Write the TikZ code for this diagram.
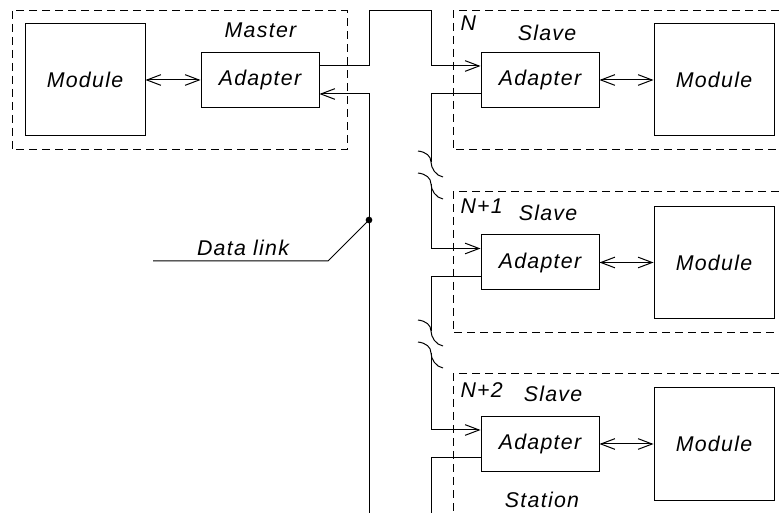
\documentclass[tikz,border=0pt]{standalone}
\usepackage{fontspec}
\setmainfont{Liberation Sans}[LetterSpace=6]
\usetikzlibrary{arrows.meta}

\tikzset{every picture/.style={line width=0.75pt}}
\tikzset{
  >={Straight Barb[length=10.5pt,width=8pt]},
  lbl/.style={inner sep=0.75pt, font=\fontsize{16}{18}\selectfont\itshape},
  unit/.style={draw, lbl, minimum width=88.5pt, minimum height=41.25pt},
  modbox/.style={draw, lbl, minimum width=90pt, minimum height=84pt},
  frame/.style={dash pattern=on 6pt off 3.75pt},
}

\begin{document}
\begin{tikzpicture}[x=0.75pt,y=0.75pt,yscale=-1,xscale=1]
\useasboundingbox (0,0) rectangle (779,513);

%Dashed frames
\draw [frame] (12,11) rectangle (347,150);
\draw [frame] (779,11) -| (453,150) -- (779,150);
\draw [frame] (779,192) -| (453,333) -- (779,333);
\draw [frame] (779,374) -| (453,513);

%Master station
\node [modbox] (mod0) at (85,80) {Module};
\node [unit] (adp0) at (260,80) {Adapter};
%Slave N
\node [unit] (adp1) at (540,80) {Adapter};
\node [modbox] (mod1) at (714,80) {Module};
%Slave N+1
\node [unit] (adp2) at (540,262.5) {Adapter};
\node [modbox] (mod2) at (714,262.5) {Module};
%Slave N+2
\node [unit] (adp3) at (540,444) {Adapter};
\node [modbox] (mod3) at (714,444) {Module};

%Adapter to module
\draw [<->] (mod0) -- (adp0);
\draw [<->] (adp1) -- (mod1);
\draw [<->] (adp2) -- (mod2);
\draw [<->] (adp3) -- (mod3);

%Bus corners and breaks
\coordinate (up0) at (369,11);
\coordinate (up1) at (431,11);
\coordinate (ret) at (369,513);
\coordinate (gap1) at (431,162);
\coordinate (gap1b) at (431,184);
\coordinate (gap2) at (431,331);
\coordinate (gap2b) at (431,353);
\coordinate (tail) at (431,513);

%Data link
\draw [->] ([yshift=-10.5pt]adp0.east) -| (up0) -- (up1) |- ([yshift=-10.5pt]adp1.west);
\draw [->] (ret) |- ([yshift=10.5pt]adp0.east);
\draw ([yshift=10.5pt]adp1.west) -| (gap1);
\draw [->] (gap1b) |- ([yshift=-10.5pt]adp2.west);
\draw ([yshift=10.5pt]adp2.west) -| (gap2);
\draw [->] (gap2b) |- ([yshift=-10.5pt]adp3.west);
\draw ([yshift=10.5pt]adp3.west) -| (tail);

%Break marks
\draw (418,151) .. controls (426,152) and (431,156) .. (gap1) .. controls (431,168) and (436,176) .. (443,177);
\draw (418,173) .. controls (426,174) and (431,178) .. (gap1b) .. controls (431,190) and (436,198) .. (443,199);
\draw (418,320) .. controls (426,321) and (431,325) .. (gap2) .. controls (431,337) and (436,345) .. (443,346);
\draw (418,342) .. controls (426,343) and (431,347) .. (gap2b) .. controls (431,359) and (436,367) .. (443,368);

%Leader
\node [circle, fill, inner sep=0pt, minimum size=5pt] (tap) at (369,220) {};
\coordinate (knee) at (328,261);
\coordinate (lend) at (153,261);
\draw (tap.center) -- (knee) -- (lend);

% Text Node
\node [lbl] (lnk) at (243,248) {Data link};
% Text Node
\node [lbl] (tm) at (260.5,30.5) {Master};
% Text Node
\node [lbl] (ts1) at (547,33) {Slave};
% Text Node
\node [lbl] (ts2) at (548,213) {Slave};
% Text Node
\node [lbl] (ts3) at (553,394) {Slave};
% Text Node
\node [lbl, anchor=west] (n1) at (459,23.5) {N};
% Text Node
\node [lbl, anchor=west] (n2) at (459,206.5) {N+1};
% Text Node
\node [lbl, anchor=west] (n3) at (459,390.5) {N+2};
% Text Node
\node [lbl] (st) at (542,500) {Station};

\end{tikzpicture}
\end{document}
